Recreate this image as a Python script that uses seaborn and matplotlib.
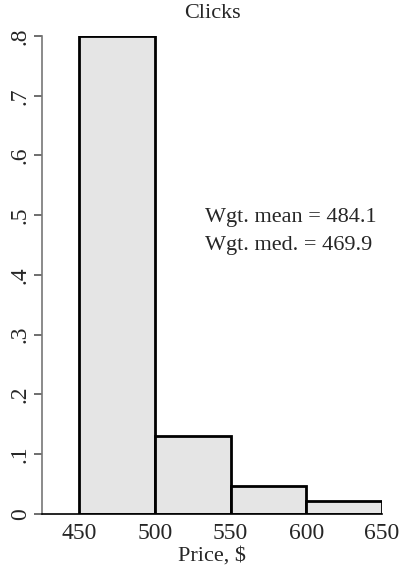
import numpy as np
import pandas as pd
import matplotlib
matplotlib.use("Agg")
import matplotlib.pyplot as plt
import seaborn as sns

# histogram bins (price, $) and fraction of clicks per bin
bin_edges = [450, 500, 550, 600, 650]
bin_mids = [475, 525, 575, 625]
fractions = [0.80, 0.13, 0.047, 0.021]
y_ticks = [0, 0.1, 0.2, 0.3, 0.4, 0.5, 0.6, 0.7, 0.8]
y_labels = ["0", ".1", ".2", ".3", ".4", ".5", ".6", ".7", ".8"]
x_ticks = [450, 500, 550, 600, 650]
notes = ["Wgt. mean = 484.1", "Wgt. med. = 469.9"]

sns.set_style("white")
plt.rcParams["font.family"] = ["Liberation Serif", "DejaVu Serif"]

df = pd.DataFrame({"price": bin_mids, "share": fractions})

fig = plt.figure(figsize=(4, 5.67), dpi=100)
ax = fig.add_axes([0.105, 0.0935, 0.85, 0.843])
sns.histplot(data=df, x="price", weights="share", bins=bin_edges, stat="count",
             color="#e5e5e5", edgecolor="black", linewidth=2, alpha=1, ax=ax)

ax.set_xlim(425.5, 650)
ax.set_ylim(0, 0.8)
ax.set_xticks(x_ticks)
ax.set_xticklabels([str(t) for t in x_ticks], fontsize=17)
ax.set_yticks(y_ticks)
ax.set_yticklabels(y_labels, fontsize=17, rotation=90, va="center")
ax.set_xlabel("Price, $", fontsize=16, labelpad=2)
ax.set_ylabel("")
ax.set_title("Clicks", fontsize=16, pad=13)

for s in ["top", "right"]:
    ax.spines[s].set_visible(False)
ax.spines["left"].set_color("#777777")
ax.spines["left"].set_linewidth(1.2)
ax.spines["bottom"].set_color("black")
ax.spines["bottom"].set_linewidth(1.2)
ax.tick_params(axis="y", left=True, length=6, width=1.2, color="#555555", pad=2)
ax.tick_params(axis="x", bottom=False, pad=3)

ax.text(533, 0.497, notes[0], fontsize=16, va="center", ha="left")
ax.text(533, 0.450, notes[1], fontsize=16, va="center", ha="left")

fig.savefig("out.png", dpi=100)
